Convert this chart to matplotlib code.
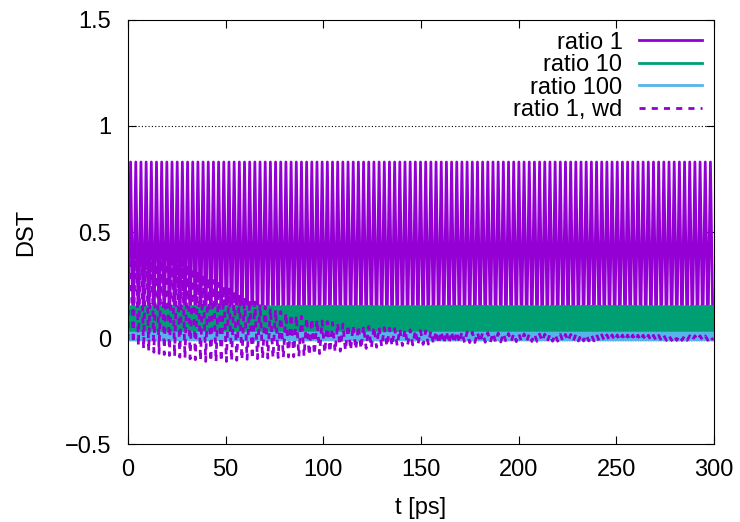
import numpy as np
import matplotlib
matplotlib.use("Agg")
import matplotlib.pyplot as plt

plt.rcParams["font.family"] = ["Liberation Sans", "DejaVu Sans"]
plt.rcParams["font.size"] = 17

# envelope knots (t in ps, DST)
t_knots = [0, 10, 20, 30, 40, 50, 60, 70, 80, 90, 100, 115, 130, 150, 170, 200, 250, 300]

r1_top = [0.83, 0.83, 0.83, 0.83, 0.83, 0.83, 0.83, 0.83, 0.83, 0.83, 0.83, 0.83, 0.83, 0.83, 0.83, 0.83, 0.83, 0.83]
r1_bot = [0.0, 0.0, 0.0, 0.0, 0.0, 0.0, 0.0, 0.0, 0.0, 0.0, 0.0, 0.0, 0.0, 0.0, 0.0, 0.0, 0.0, 0.0]

r10_top = [0.15, 0.15, 0.15, 0.15, 0.15, 0.15, 0.15, 0.15, 0.15, 0.15, 0.15, 0.15, 0.15, 0.15, 0.15, 0.15, 0.15, 0.15]
r10_bot = [0.02, 0.02, 0.02, 0.02, 0.02, 0.02, 0.02, 0.02, 0.02, 0.02, 0.02, 0.02, 0.02, 0.02, 0.02, 0.02, 0.02, 0.02]

r100_top = [0.025, 0.025, 0.025, 0.025, 0.025, 0.025, 0.025, 0.025, 0.025, 0.025, 0.025, 0.025, 0.025, 0.025, 0.025, 0.025, 0.025, 0.025]
r100_bot = [-0.01, -0.01, -0.01, -0.01, -0.01, -0.01, -0.01, -0.01, -0.01, -0.01, -0.01, -0.01, -0.01, -0.01, -0.01, -0.01, -0.01, -0.01]

wd_top = [0.50, 0.46, 0.41, 0.35, 0.29, 0.24, 0.19, 0.15, 0.12, 0.10, 0.08, 0.06, 0.05, 0.035, 0.03, 0.02, 0.015, 0.01]
wd_bot = [-0.01, -0.06, -0.08, -0.095, -0.11, -0.11, -0.10, -0.095, -0.09, -0.085, -0.07, -0.055, -0.04, -0.03, -0.022, -0.016, -0.012, -0.01]

period_r1 = 2.65   # ps, counted from the stripes
period_r10 = 1.3
period_r100 = 1.3
period_wd = 2.65

labels = ["ratio 1", "ratio 10", "ratio 100", "ratio 1, wd"]
colors = ["#9400D3", "#009E73", "#56B4E9", "#9400D3"]


def zigzag(top, bot, period):
    t = np.arange(0, 300 + period / 4, period / 2)
    hi = np.interp(t, t_knots, top)
    lo = np.interp(t, t_knots, bot)
    y = np.where(np.arange(len(t)) % 2 == 0, lo, hi)
    return t, y


fig = plt.figure(figsize=(7.4, 5.22), dpi=100)
ax = fig.add_axes([0.173, 0.149, 0.792, 0.813])

ax.axhline(1.0, color="black", lw=0.8, ls=(0, (1, 2)), zorder=0)

series = [(r1_top, r1_bot, period_r1), (r10_top, r10_bot, period_r10),
          (r100_top, r100_bot, period_r100), (wd_top, wd_bot, period_wd)]
for i, (top, bot, per) in enumerate(series):
    t, y = zigzag(top, bot, per)
    ls = (0, (2.2, 2.2)) if i == 3 else "-"
    ax.plot(t, y, color=colors[i], lw=2, ls=ls, label=labels[i])

ax.set_xlim(0, 300)
ax.set_ylim(-0.5, 1.5)
ax.set_xticks([0, 50, 100, 150, 200, 250, 300])
ax.set_yticks([-0.5, 0, 0.5, 1, 1.5])
ax.set_yticklabels(["\u22120.5", "0", "0.5", "1", "1.5"])
ax.tick_params(direction="in", top=True, right=True, length=6)
ax.tick_params(axis="y", pad=12)
ax.tick_params(axis="x", pad=11)
ax.set_xlabel("t [ps]", labelpad=11)
ax.set_ylabel("DST", labelpad=20)

ax.legend(loc="upper right", markerfirst=False, frameon=False,
          handlelength=2.7, handletextpad=0.68, labelspacing=0.02,
          borderaxespad=0.2, borderpad=0.3, fontsize=17)

fig.savefig("out.png", dpi=100)
